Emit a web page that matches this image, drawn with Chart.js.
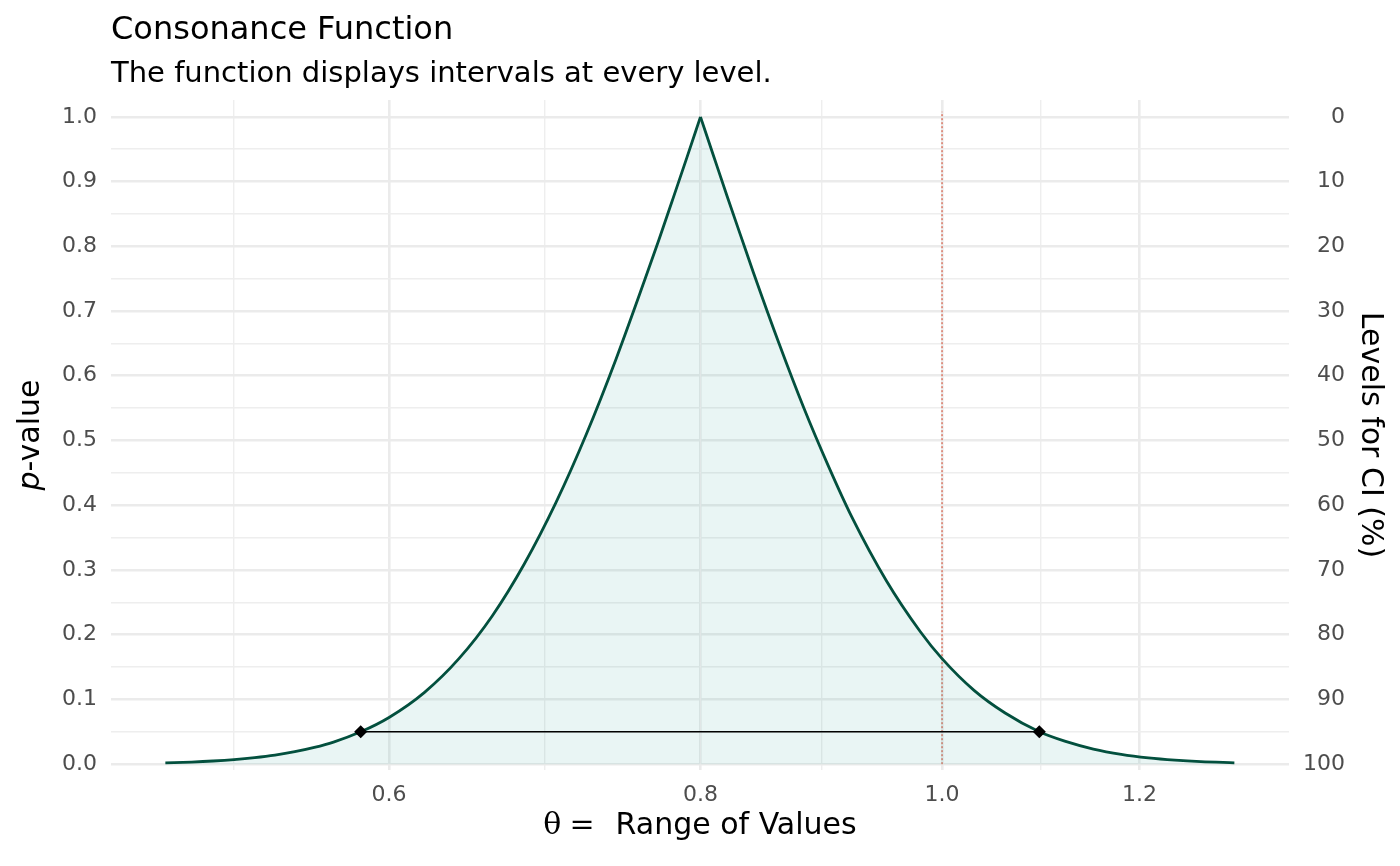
<!DOCTYPE html>
<html>
<head>
<meta charset="utf-8">
<title>Consonance Function</title>
<script src="https://cdn.jsdelivr.net/npm/chart.js@4.4.1/dist/chart.umd.min.js"></script>
<style>
  html, body { margin: 0; padding: 0; background: #fff; }
  #wrap { width: 1400px; height: 866px; }
</style>
</head>
<body>
<div id="wrap"><canvas id="consonance" width="1400" height="866"></canvas></div>
<script>
// consonance curve (theta on a log axis, p-value)
const thetaValues = [0.488, 0.50, 0.51, 0.52, 0.53, 0.54, 0.55, 0.56, 0.57, 0.5845,
  0.60, 0.62, 0.64, 0.66, 0.68, 0.70, 0.72, 0.74, 0.76, 0.77,
  0.78, 0.79, 0.80, 0.81, 0.82, 0.83, 0.84, 0.86, 0.88, 0.90,
  0.92, 0.95, 0.98, 1.00, 1.03, 1.06, 1.094, 1.12, 1.15, 1.18,
  1.21, 1.24, 1.27, 1.31];
const pValues = [0.002, 0.0033, 0.0049, 0.0071, 0.0101, 0.014, 0.0192, 0.0258, 0.0341, 0.05,
  0.0722, 0.111, 0.163, 0.229, 0.31, 0.404, 0.51, 0.626, 0.749, 0.811,
  0.874, 0.937, 1.0, 0.938, 0.877, 0.818, 0.76, 0.651, 0.551, 0.462,
  0.382, 0.283, 0.205, 0.163, 0.114, 0.079, 0.05, 0.0355, 0.0233, 0.0151,
  0.0097, 0.0062, 0.0039, 0.0021];

// 95% interval drawn at p = 0.05
const intervalTheta = [0.5845, 1.094];
const intervalP = [0.05, 0.05];

// null value reference line
const nullTheta = [1.0, 1.0];
const nullP = [0, 1.008];

// axis ticks
const xMajor = [0.6, 0.8, 1.0, 1.2];
const xLabels = ['0.6', '0.8', '1.0', '1.2'];
const xMinor = [0.5196, 0.6928, 0.8944, 1.0954];
const pMajor = [0, 0.1, 0.2, 0.3, 0.4, 0.5, 0.6, 0.7, 0.8, 0.9, 1.0];
const pLabels = ['0.0', '0.1', '0.2', '0.3', '0.4', '0.5', '0.6', '0.7', '0.8', '0.9', '1.0'];
const pMinor = [0.05, 0.15, 0.25, 0.35, 0.45, 0.55, 0.65, 0.75, 0.85, 0.95];
const ciLabels = ['100', '90', '80', '70', '60', '50', '40', '30', '20', '10', '0'];

const FONT = '"DejaVu Sans", sans-serif';
const GRID = '#EBEBEB';

function pairs(xs, ys) {
  return xs.map((x, i) => ({ x: x, y: ys[i] }));
}

function withMinor(major, minor) {
  return major.map(v => ({ value: v, minor: false }))
    .concat(minor.map(v => ({ value: v, minor: true })));
}

function labelFrom(values, labels) {
  return function (v) {
    const i = values.findIndex(m => Math.abs(m - v) < 1e-9);
    return i < 0 ? '' : labels[i];
  };
}

// split the curve at its peak so the cusp stays sharp
const curve = pairs(thetaValues, pValues);
const peak = pValues.indexOf(Math.max(...pValues));
const leftBranch = curve.slice(0, peak + 1);
const rightBranch = curve.slice(peak);

const gridColor = ctx => ctx.tick && ctx.tick.minor ? '#EEEEEE' : GRID;
const gridWidth = ctx => ctx.tick && ctx.tick.minor ? 1.4 : 2.6;

// ggplot-style titles (left aligned to the panel, italic p, plotmath theta)
const titles = {
  id: 'ggTitles',
  afterDraw(chart) {
    const { ctx, chartArea: a } = chart;
    ctx.save();
    ctx.fillStyle = '#000';
    ctx.textAlign = 'left';
    ctx.textBaseline = 'alphabetic';
    ctx.font = '32px ' + FONT;
    ctx.fillText('Consonance Function', a.left, 39);
    ctx.font = '29px ' + FONT;
    ctx.fillText('The function displays intervals at every level.', a.left, 82);

    // x title
    const serif = '30px "DejaVu Serif", "Liberation Serif", serif';
    const sans = '30px ' + FONT;
    ctx.font = serif;
    const wt = ctx.measureText('\u03B8').width;
    const we = ctx.measureText('=').width;
    ctx.font = sans;
    const wr = ctx.measureText('Range of Values').width;
    const total = wt + 8 + we + 21 + wr;
    let x = (a.left + a.right) / 2 - total / 2;
    ctx.font = serif;
    ctx.fillText('\u03B8', x, 834);
    ctx.fillText('=', x + wt + 8, 834);
    ctx.font = sans;
    ctx.fillText('Range of Values', x + wt + 8 + we + 21, 834);

    // left y title
    ctx.save();
    ctx.translate(31, (a.top + a.bottom) / 2);
    ctx.rotate(-Math.PI / 2);
    ctx.textBaseline = 'middle';
    ctx.font = 'italic 30px ' + FONT;
    const wp = ctx.measureText('p').width;
    ctx.font = sans;
    const wv = ctx.measureText('-value').width;
    ctx.font = 'italic 30px ' + FONT;
    ctx.fillText('p', -(wp + wv) / 2, 0);
    ctx.font = sans;
    ctx.fillText('-value', -(wp + wv) / 2 + wp, 0);
    ctx.restore();

    // right y title
    ctx.save();
    ctx.translate(1370, (a.top + a.bottom) / 2);
    ctx.rotate(Math.PI / 2);
    ctx.textAlign = 'center';
    ctx.textBaseline = 'middle';
    ctx.font = sans;
    ctx.fillText('Levels for CI (%)', 0, 0);
    ctx.restore();

    ctx.restore();
  }
};

const branchStyle = {
  borderColor: '#03503E',
  borderWidth: 2.8,
  backgroundColor: 'rgba(35, 154, 152, 0.1)',
  fill: 'origin',
  pointRadius: 0,
  cubicInterpolationMode: 'monotone',
  order: 2
};

new Chart(document.getElementById('consonance'), {
  type: 'line',
  data: {
    datasets: [
      {
        label: 'interval',
        data: pairs(intervalTheta, intervalP),
        borderColor: '#000',
        borderWidth: 1.5,
        pointStyle: 'rectRot',
        pointRadius: 5.5,
        pointBackgroundColor: '#000',
        pointBorderColor: '#000',
        fill: false,
        order: 1
      },
      Object.assign({ label: 'consonance (lower)', data: leftBranch }, branchStyle),
      Object.assign({ label: 'consonance (upper)', data: rightBranch }, branchStyle),
      {
        label: 'null',
        data: pairs(nullTheta, nullP),
        borderColor: '#D9654F',
        borderWidth: 1.3,
        borderDash: [2, 2],
        pointRadius: 0,
        fill: false,
        order: 3
      }
    ]
  },
  options: {
    responsive: false,
    devicePixelRatio: 1,
    animation: false,
    layout: { padding: { top: 100, left: 0, right: 55, bottom: 0 } },
    plugins: { legend: { display: false }, tooltip: { enabled: false } },
    scales: {
      x: {
        type: 'logarithmic',
        min: 0.4641,
        max: 1.3778,
        afterBuildTicks: s => { s.ticks = withMinor(xMajor, xMinor); },
        afterFit: s => { s.height = 96; },
        border: { display: false },
        grid: { color: gridColor, lineWidth: gridWidth, drawTicks: false },
        ticks: {
          autoSkip: false, maxRotation: 0, padding: 12,
          color: '#4D4D4D', font: { family: FONT, size: 22 },
          callback: labelFrom(xMajor, xLabels)
        }
      },
      y: {
        type: 'linear',
        position: 'left',
        min: -0.009,
        max: 1.026,
        afterBuildTicks: s => { s.ticks = withMinor(pMajor, pMinor); },
        afterFit: s => { s.width = 111; },
        border: { display: false },
        grid: { color: gridColor, lineWidth: gridWidth, drawTicks: false },
        ticks: {
          autoSkip: false, padding: 14,
          color: '#4D4D4D', font: { family: FONT, size: 22 },
          callback: labelFrom(pMajor, pLabels)
        }
      },
      y2: {
        type: 'linear',
        position: 'right',
        display: true,
        min: -0.009,
        max: 1.026,
        afterBuildTicks: s => { s.ticks = pMajor.map(v => ({ value: v })); },
        afterFit: s => { s.width = 56; },
        border: { display: false },
        grid: { display: false, drawTicks: false },
        ticks: {
          autoSkip: false, padding: 14, crossAlign: 'far',
          color: '#4D4D4D', font: { family: FONT, size: 22 },
          callback: labelFrom(pMajor, ciLabels)
        }
      }
    }
  },
  plugins: [titles]
});
</script>
</body>
</html>
